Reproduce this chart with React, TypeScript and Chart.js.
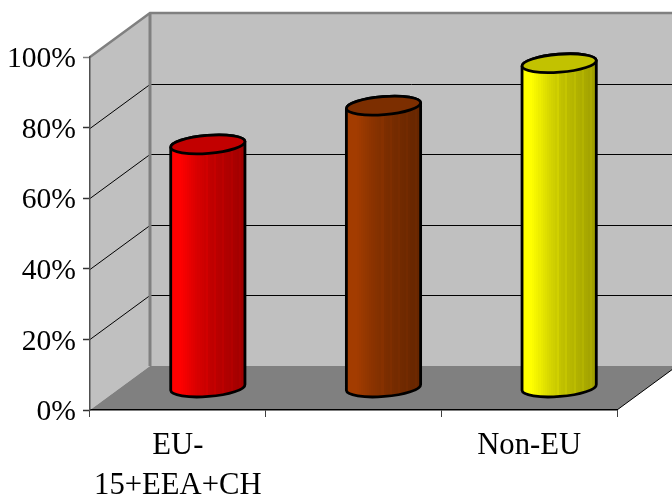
import React, { useEffect, useRef } from "react";
import { Chart, registerables, BarController, BarElement } from "chart.js";

const categories = [["EU-", "15+EEA+CH"], "", "Non-EU"];
const shares = [69, 80, 92];
const baseColors = ["#ff0000", "#a33c00", "#ffff00"];
const yTicks = { min: 0, max: 100, step: 20 };

// Oblique projection of the chart box: how far the back plane sits from the front plane.
const DEPTH_X = 60;
const DEPTH_Y = -44;
const ELLIPSE_RY = 9;
const ELLIPSE_TILT = -0.08;

function shade(hex: string, k: number) {
  const n = parseInt(hex.slice(1), 16);
  const c = [(n >> 16) & 255, (n >> 8) & 255, n & 255].map((v) => Math.round(v * k));
  return `rgb(${c[0]},${c[1]},${c[2]})`;
}

// Brightness across the curved side, from the lit left edge to the shaded right edge.
function sideBrightness(t: number) {
  if (t < 0.12) return 1;
  if (t < 0.35) return 1 - 0.15 * ((t - 0.12) / 0.23);
  if (t < 0.55) return 0.85 - 0.1 * ((t - 0.35) / 0.2);
  return 0.75 - 0.13 * ((t - 0.55) / 0.45);
}

// Banded horizontal shading across a cylinder, with thin lighter streaks on the shaded half.
function sideGradient(ctx: CanvasRenderingContext2D, x0: number, x1: number, hex: string) {
  const g = ctx.createLinearGradient(x0, 0, x1, 0);
  const bands = 36;
  for (let i = 0; i < bands; i++) {
    const t = i / (bands - 1);
    const streak = i > 16 && i % 4 === 1 ? 1.05 : 1;
    const col = shade(hex, Math.min(1, sideBrightness(t) * streak));
    g.addColorStop(i / bands, col);
    g.addColorStop((i + 1) / bands, col);
  }
  return g;
}

class CylinderElement extends BarElement {
  static id = "cylinder";
  static defaults = BarElement.defaults;
  static defaultRoutes = BarElement.defaultRoutes;

  draw(ctx: CanvasRenderingContext2D) {
    const { x, y, base, width } = (this as any).getProps(["x", "y", "base", "width"], true);
    const opts = (this as any).options;
    const cx = x + DEPTH_X / 2;
    const top = y + DEPTH_Y / 2;
    const bottom = base + DEPTH_Y / 2;
    const rx = width / 2;
    const hex = opts.backgroundColor;

    ctx.save();
    ctx.lineJoin = "round";
    ctx.strokeStyle = opts.borderColor;
    ctx.lineWidth = opts.borderWidth;

    ctx.beginPath();
    ctx.ellipse(cx, bottom, rx, ELLIPSE_RY, ELLIPSE_TILT, Math.PI, 0, true);
    ctx.ellipse(cx, top, rx, ELLIPSE_RY, ELLIPSE_TILT, 0, Math.PI, true);
    ctx.closePath();
    ctx.fillStyle = sideGradient(ctx, cx - rx, cx + rx, hex);
    ctx.fill();
    ctx.stroke();

    ctx.beginPath();
    ctx.ellipse(cx, top, rx, ELLIPSE_RY, ELLIPSE_TILT, 0, Math.PI * 2);
    ctx.fillStyle = shade(hex, 0.76);
    ctx.fill();
    ctx.stroke();
    ctx.restore();
  }
}

class CylinderController extends BarController {
  static id = "cylinder";
  static defaults = { ...BarController.defaults, dataElementType: "cylinder" };
  static overrides = BarController.overrides;
}

Chart.register(...registerables, CylinderElement, CylinderController);

// Walls, floor and wall gridlines of the box, placed from the axis scales.
const boxPlugin = {
  id: "box3d",
  beforeDraw(chart: any) {
    const { ctx, scales } = chart;
    const xs = scales.x;
    const ys = scales.y;
    const left = xs.left;
    const right = xs.right;
    const y0 = ys.getPixelForValue(yTicks.min);
    const y1 = ys.getPixelForValue(yTicks.max);
    const bx = left + DEPTH_X;
    const rightEdge = chart.width + 2;

    const poly = (pts: number[][], fill?: string) => {
      ctx.beginPath();
      pts.forEach((p, i) => (i ? ctx.lineTo(p[0], p[1]) : ctx.moveTo(p[0], p[1])));
      ctx.closePath();
      if (fill) {
        ctx.fillStyle = fill;
        ctx.fill();
      }
    };
    const line = (pts: number[][], color: string, width: number) => {
      ctx.beginPath();
      pts.forEach((p, i) => (i ? ctx.lineTo(p[0], p[1]) : ctx.moveTo(p[0], p[1])));
      ctx.strokeStyle = color;
      ctx.lineWidth = width;
      ctx.stroke();
    };

    ctx.save();
    poly([[left, y0], [left, y1], [bx, y1 + DEPTH_Y], [bx, y0 + DEPTH_Y]], "#c0c0c0");
    poly([[bx, y1 + DEPTH_Y], [rightEdge, y1 + DEPTH_Y], [rightEdge, y0 + DEPTH_Y], [bx, y0 + DEPTH_Y]], "#c0c0c0");
    poly([[left, y0], [right, y0], [right + DEPTH_X, y0 + DEPTH_Y], [bx, y0 + DEPTH_Y]], "#808080");

    for (let v = yTicks.min + yTicks.step; v < yTicks.max; v += yTicks.step) {
      const py = Math.round(ys.getPixelForValue(v)) + 0.5;
      line([[left, py], [bx, py + DEPTH_Y], [rightEdge, py + DEPTH_Y]], "#000000", 1);
    }
    line([[left, y1], [bx, y1 + DEPTH_Y], [rightEdge, y1 + DEPTH_Y]], "#808080", 2.5);
    line([[bx, y1 + DEPTH_Y], [bx, y0 + DEPTH_Y]], "#808080", 3);
    line([[right, y0], [right + DEPTH_X, y0 + DEPTH_Y]], "#000000", 1);
    ctx.restore();
  },
};

export default function App() {
  const ref = useRef<HTMLCanvasElement>(null);
  useEffect(() => {
    const family = '"Liberation Serif", serif';
    const chart = new Chart(ref.current!, {
      type: "cylinder" as any,
      data: {
        labels: categories as any,
        datasets: [
          {
            data: shares,
            backgroundColor: baseColors,
            borderColor: "#000000",
            borderWidth: 2.8,
            categoryPercentage: 1,
            barPercentage: 0.424,
            clip: false,
          },
        ],
      },
      options: {
        responsive: false,
        animation: false,
        events: [],
        layout: { padding: { top: 57, right: 55, left: 0, bottom: 0 } },
        plugins: { legend: { display: false }, title: { display: false }, tooltip: { enabled: false } },
        scales: {
          x: {
            type: "category",
            offset: true,
            grid: { offset: true, drawOnChartArea: false, color: "#404040", tickLength: 7, tickWidth: 1 },
            border: { color: "#000000", width: 1.5 },
            ticks: {
              font: { family, size: 30.7, lineHeight: 40 / 30.7 },
              color: "#000000",
              autoSkip: false,
              maxRotation: 0,
              minRotation: 0,
              padding: 9,
            },
            afterFit: (s: any) => {
              s.height = 84;
              s.paddingLeft = 0;
              s.paddingRight = 0;
            },
          },
          y: {
            min: yTicks.min,
            max: yTicks.max,
            grid: {
              drawOnChartArea: false,
              tickLength: 7,
              tickWidth: 1.5,
              color: (c: any) => (c.tick.value === yTicks.max ? "#808080" : "#333333"),
            },
            border: { color: "#505050", width: 1.5 },
            ticks: {
              font: { family, size: 29.6 },
              color: "#000000",
              stepSize: yTicks.step,
              padding: 7,
              labelOffset: 2.5,
              callback: (v: any) => `${v}%`,
            },
            afterFit: (s: any) => {
              s.width = 90;
              s.paddingTop = 0;
              s.paddingBottom = 0;
            },
          },
        },
      } as any,
      plugins: [boxPlugin],
    });
    return () => chart.destroy();
  }, []);
  return (
    <div style={{ position: "absolute", left: 0, top: 0, width: 672, height: 494, overflow: "hidden", background: "#fff" }}>
      <canvas ref={ref} width={672} height={494} style={{ display: "block" }} />
    </div>
  );
}
